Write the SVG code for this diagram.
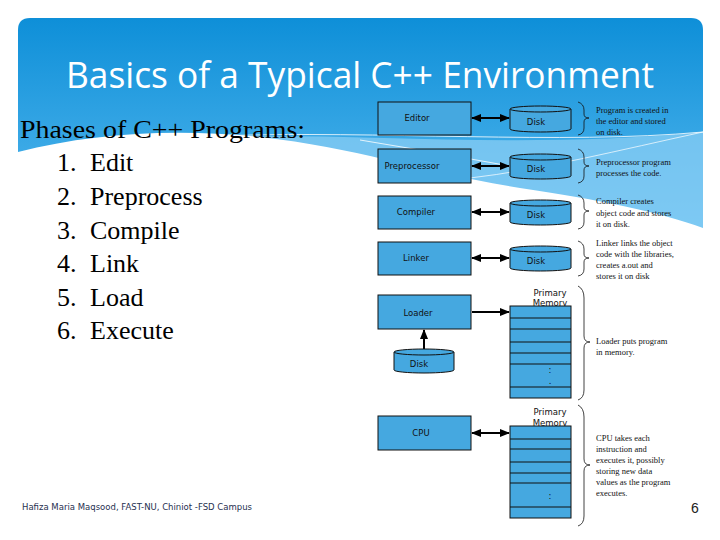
<svg xmlns="http://www.w3.org/2000/svg" width="720" height="540" viewBox="0 0 720 540">
<defs>
<linearGradient id="hdr" x1="0" y1="0" x2="0" y2="1">
<stop offset="0" stop-color="#0e8fd8"/>
<stop offset="1" stop-color="#56b9ef"/>
</linearGradient>
<marker id="ah" viewBox="0 0 10 10" refX="9" refY="5" markerWidth="5" markerHeight="5" orient="auto-start-reverse">
<path d="M0,1 L10,5 L0,9 Z" fill="#000"/>
</marker>
<style>
.box{fill:#45a8e0;stroke:#111;stroke-width:1}
.lbl{font-family:"DejaVu Sans","Liberation Sans",sans-serif;font-size:8.5px;fill:#111;text-anchor:middle}
.note{font-family:"Liberation Serif",serif;font-size:8.5px;fill:#111}
.brace{fill:none;stroke:#111;stroke-width:0.8}
.conn{stroke:#000;stroke-width:2;fill:none;marker-end:url(#ah)}
.dbl{marker-start:url(#ah)}
.big{font-family:"Liberation Serif",serif;font-size:26px;fill:#000}
.row{stroke:#111;stroke-width:1}
</style>
</defs>
<rect width="720" height="540" fill="#fff"/>
<path d="M18,30 Q18,18 30,18 L691,18 Q703,18 703,30 L703,230 L18,230 Z" fill="url(#hdr)"/>
<path d="M210,137 C350,132 520,150 703,132 L703,230 C600,205 480,190 380,162 C320,146 270,138 210,137 Z" fill="#8fd0f5" opacity="0.7"/>
<path d="M18,152 C90,134 170,128 260,137 C360,148 420,172 520,188 C600,200 660,212 703,228 L703,540 L18,540 Z" fill="#fff"/>
<path d="M215,136 C380,130 560,145 703,132" stroke="#fff" stroke-width="1" fill="none" opacity="0.8"/>
<path d="M360,140 C420,150 480,160 540,172" stroke="#fff" stroke-width="1" fill="none" opacity="0.8"/>
<path d="M470,178 C540,170 620,150 703,132" stroke="#fff" stroke-width="1" fill="none" opacity="0.7"/>
<text x="360" y="88" font-family="'Open Sans','Noto Sans',sans-serif" font-size="36" fill="#fff" text-anchor="middle" textLength="588" lengthAdjust="spacingAndGlyphs">Basics of a Typical C++ Environment</text>
<text class="big" x="20" y="138" textLength="285" lengthAdjust="spacingAndGlyphs">Phases of C++ Programs:</text>
<g class="big">
<text x="57" y="171">1.</text><text x="90" y="171">Edit</text>
<text x="57" y="205">2.</text><text x="90" y="205">Preprocess</text>
<text x="57" y="239">3.</text><text x="90" y="239">Compile</text>
<text x="57" y="272">4.</text><text x="90" y="272">Link</text>
<text x="57" y="306">5.</text><text x="90" y="306">Load</text>
<text x="57" y="339">6.</text><text x="90" y="339">Execute</text>
</g>
<g id="connectors">
<line class="conn dbl" x1="472" y1="118" x2="509" y2="118"/>
<line class="conn dbl" x1="472" y1="166" x2="509" y2="166"/>
<line class="conn dbl" x1="472" y1="212" x2="509" y2="212"/>
<line class="conn dbl" x1="472" y1="258" x2="509" y2="258"/>
<line class="conn" x1="472" y1="312" x2="509" y2="312"/>
<line class="conn" x1="424" y1="352" x2="424" y2="330"/>
<line class="conn dbl" x1="472" y1="433" x2="509" y2="433"/>
</g>
<g id="editor"><rect class="box" x="378" y="102" width="93" height="33"/><text class="lbl" x="417" y="121">Editor</text></g>
<g id="preprocessor"><rect class="box" x="378" y="149" width="93" height="34"/><text class="lbl" x="412" y="169">Preprocessor</text></g>
<g id="compiler"><rect class="box" x="378" y="196" width="93" height="33"/><text class="lbl" x="416" y="215">Compiler</text></g>
<g id="linker"><rect class="box" x="378" y="242" width="93" height="33"/><text class="lbl" x="416" y="261">Linker</text></g>
<g id="loader"><rect class="box" x="378" y="295" width="93" height="34"/><text class="lbl" x="418" y="316">Loader</text></g>
<g id="cpu"><rect class="box" x="378" y="416" width="93" height="34"/><text class="lbl" x="421" y="436">CPU</text></g>
<g id="disk1"><path class="box" d="M510,109 L510,129 A30.5,3 0 0 0 571,129 L571,109"/><ellipse class="box" cx="540.5" cy="109" rx="30.5" ry="3"/><text class="lbl" x="536" y="125">Disk</text></g>
<g id="disk2"><path class="box" d="M510,157 L510,176 A30.5,3 0 0 0 571,176 L571,157"/><ellipse class="box" cx="540.5" cy="157" rx="30.5" ry="3"/><text class="lbl" x="536" y="172">Disk</text></g>
<g id="disk3"><path class="box" d="M510,203 L510,222 A30.5,3 0 0 0 571,222 L571,203"/><ellipse class="box" cx="540.5" cy="203" rx="30.5" ry="3"/><text class="lbl" x="536" y="218">Disk</text></g>
<g id="disk4"><path class="box" d="M510,249 L510,268 A30.5,3 0 0 0 571,268 L571,249"/><ellipse class="box" cx="540.5" cy="249" rx="30.5" ry="3"/><text class="lbl" x="536" y="264">Disk</text></g>
<g id="disk5"><path class="box" d="M394,352 L394,370 A30,3 0 0 0 454,370 L454,352"/><ellipse class="box" cx="424" cy="352" rx="30" ry="3"/><text class="lbl" x="419" y="367">Disk</text></g>
<g id="memory1">
<text class="lbl" x="550" y="296">Primary</text><text class="lbl" x="550" y="306">Memory</text>
<rect class="box" x="510" y="306" width="61" height="92"/>
<line class="row" x1="510" y1="318" x2="571" y2="318"/><line class="row" x1="510" y1="329" x2="571" y2="329"/>
<line class="row" x1="510" y1="342" x2="571" y2="342"/><line class="row" x1="510" y1="353" x2="571" y2="353"/>
<line class="row" x1="510" y1="364" x2="571" y2="364"/><line class="row" x1="510" y1="387" x2="571" y2="387"/>
<text class="lbl" x="550" y="373">:</text><text class="lbl" x="550" y="384">.</text>
</g>
<g id="memory2">
<text class="lbl" x="550" y="415">Primary</text><text class="lbl" x="550" y="426">Memory</text>
<rect class="box" x="510" y="426" width="61" height="92"/>
<line class="row" x1="510" y1="439" x2="571" y2="439"/><line class="row" x1="510" y1="449" x2="571" y2="449"/>
<line class="row" x1="510" y1="462" x2="571" y2="462"/><line class="row" x1="510" y1="473" x2="571" y2="473"/>
<line class="row" x1="510" y1="483" x2="571" y2="483"/><line class="row" x1="510" y1="507" x2="571" y2="507"/>
<text class="lbl" x="550" y="499">:</text>
</g>
<g id="braces">
<path class="brace" d="M578,102 Q584,104 584,110 L584,114 Q584,118 589,118 Q584,118 584,122 L584,128 Q584,134 578,135"/>
<path class="brace" d="M578,149 Q584,151 584,157 L584,162 Q584,166 589,166 Q584,166 584,170 L584,176 Q584,182 578,183"/>
<path class="brace" d="M578,195 Q584,197 584,203 L584,207 Q584,211 589,211 Q584,211 584,215 L584,222 Q584,228 578,229"/>
<path class="brace" d="M578,241 Q584,243 584,249 L584,254 Q584,258 589,258 Q584,258 584,262 L584,269 Q584,275 578,276"/>
<path class="brace" d="M578,286 Q584,289 584,298 L584,336 Q584,342 590,342 Q584,342 584,348 L584,390 Q584,398 578,400"/>
<path class="brace" d="M578,405 Q584,408 584,417 L584,459 Q584,465 590,465 Q584,465 584,471 L584,516 Q584,524 578,526"/>
</g>
<g class="note">
<text x="596" y="113">Program is created in</text><text x="596" y="124">the editor and stored</text><text x="596" y="135">on disk.</text>
<text x="596" y="165">Preprocessor program</text><text x="596" y="176">processes the code.</text>
<text x="596" y="204">Compiler creates</text><text x="596" y="216">object code and stores</text><text x="596" y="227">it on disk.</text>
<text x="596" y="246">Linker links the object</text><text x="596" y="257">code with the libraries,</text><text x="596" y="268">creates a.out and</text><text x="596" y="279">stores it on disk</text>
<text x="596" y="344">Loader puts program</text><text x="596" y="355">in memory.</text>
<text x="596" y="441">CPU takes each</text><text x="596" y="452">instruction and</text><text x="596" y="463">executes it, possibly</text><text x="596" y="474">storing new data</text><text x="596" y="485">values as the program</text><text x="596" y="496">executes.</text>
</g>
<text x="22" y="510" font-family="'DejaVu Sans','Liberation Sans',sans-serif" font-size="8.5" fill="#1f3050" textLength="230" lengthAdjust="spacingAndGlyphs">Hafiza Maria Maqsood, FAST-NU, Chiniot -FSD Campus</text>
<text x="691" y="513" font-family="'Liberation Sans',sans-serif" font-size="14" fill="#222">6</text>
</svg>
